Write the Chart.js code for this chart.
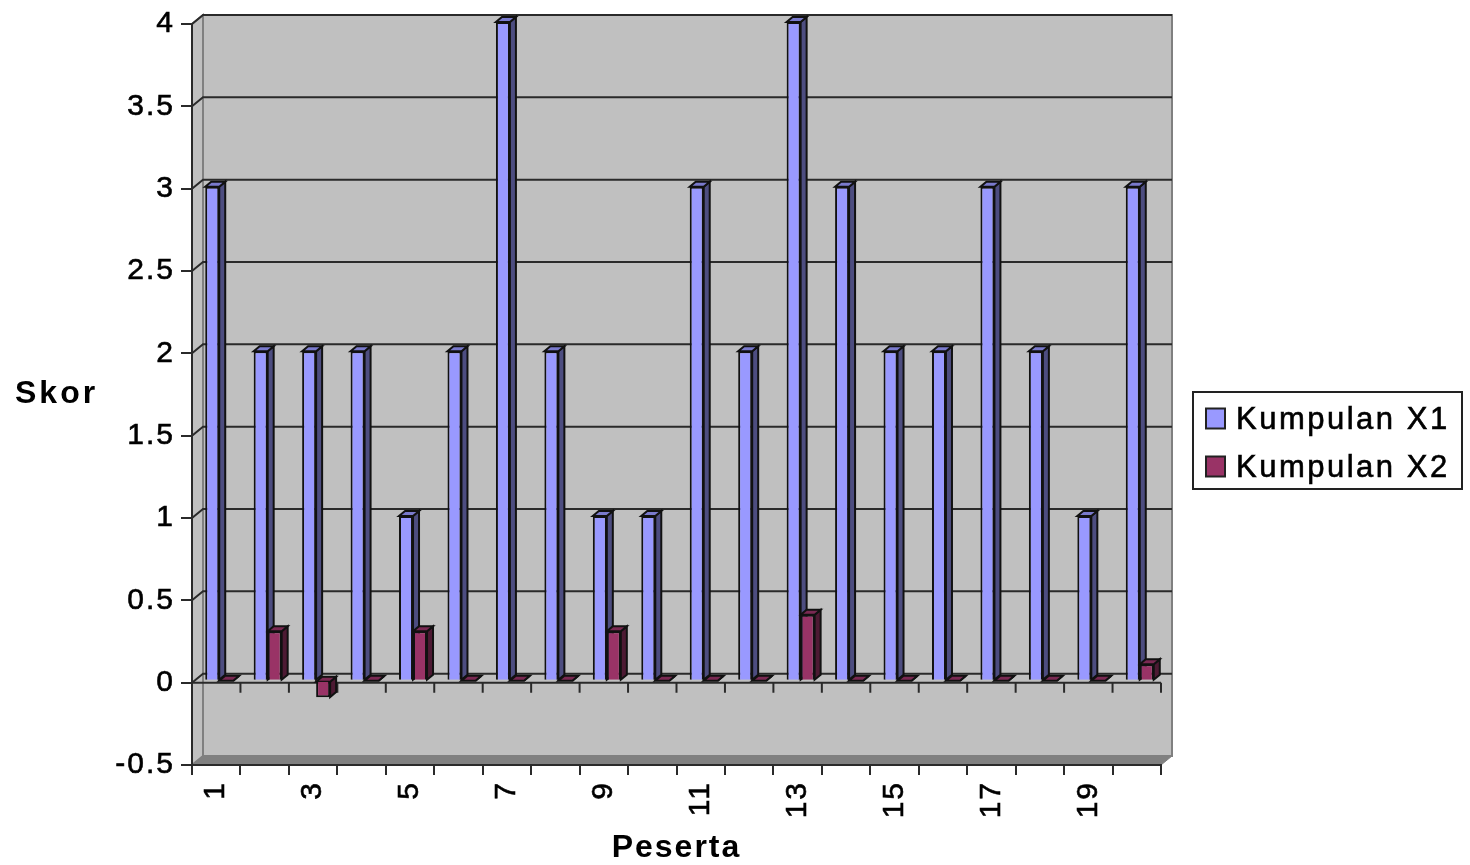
<!DOCTYPE html>
<html>
<head>
<meta charset="utf-8">
<title>Skor Peserta</title>
<script src="https://cdn.jsdelivr.net/npm/chart.js@4/dist/chart.umd.min.js"></script>
<style>
  html, body { margin: 0; padding: 0; background: #fff; }
  canvas { display: block; }
</style>
</head>
<body>
<canvas id="myChart" width="1470" height="865"></canvas>
<script>
const categories = ['1','2','3','4','5','6','7','8','9','10','11','12','13','14','15','16','17','18','19','20'];
const kumpulanX1 = [3,2,2,2,1,2,4,2,1,1,3,2,4,3,2,2,3,2,1,3];
const kumpulanX2 = [0,0.3,-0.1,0,0.3,0,0,0,0.3,0,0,0,0.4,0,0,0,0,0,0,0.1];

const FONT = '"Liberation Sans", Arial, sans-serif';
const WALL_DX = 11, WALL_DY = 9;     // how far the back wall sits behind the axes
const BAR_DX = 3, BAR_DY = 2;        // bars stand a little behind the front plane
const DEPTH_X = 6, DEPTH_Y = 5;      // depth of a bar

const faces = [
  { top: '#7a7acc', side: '#4d4d80' },
  { top: '#7a2952', side: '#4d1a33' }
];

function poly(ctx, pts, fill, stroke, lw) {
  ctx.beginPath();
  pts.forEach(function (p, i) { i ? ctx.lineTo(p[0], p[1]) : ctx.moveTo(p[0], p[1]); });
  ctx.closePath();
  if (fill) { ctx.fillStyle = fill; ctx.fill(); }
  if (stroke) { ctx.strokeStyle = stroke; ctx.lineWidth = lw; ctx.stroke(); }
}

// back wall, side wall, floor and the gridlines on them
const walls = {
  id: 'walls',
  beforeDraw(chart) {
    const ctx = chart.ctx, a = chart.chartArea, y = chart.scales.y;
    // the axis labels in the picture are widely spaced
    ctx.letterSpacing = '2px';
    ctx.save();
    poly(ctx, [[a.left + WALL_DX, a.top - WALL_DY], [a.right + WALL_DX, a.top - WALL_DY], [a.right + WALL_DX, a.bottom - WALL_DY], [a.left + WALL_DX, a.bottom - WALL_DY]], '#c0c0c0', '#808080', 2);
    poly(ctx, [[a.left, a.top], [a.left + WALL_DX, a.top - WALL_DY], [a.left + WALL_DX, a.bottom - WALL_DY], [a.left, a.bottom]], '#c0c0c0', '#808080', 2);
    poly(ctx, [[a.left, a.bottom], [a.left + WALL_DX, a.bottom - WALL_DY], [a.right + WALL_DX, a.bottom - WALL_DY], [a.right, a.bottom]], '#808080', '#808080', 1);
    ctx.strokeStyle = '#2a2a2a';
    ctx.lineWidth = 2;
    y.ticks.forEach(function (t) {
      const py = y.getPixelForValue(t.value);
      if (t.value === y.min) return;
      ctx.beginPath();
      ctx.moveTo(a.left, py);
      ctx.lineTo(a.left + WALL_DX, py - WALL_DY);
      ctx.lineTo(a.right + WALL_DX, py - WALL_DY);
      ctx.stroke();
    });
    ctx.restore();
  },
  // zero line with its own ticks, then every bar's top and side face
  beforeDatasetsDraw(chart) {
    const ctx = chart.ctx, a = chart.chartArea, x = chart.scales.x, y0 = chart.scales.y.getPixelForValue(0);
    const step = (a.right - a.left) / categories.length;
    ctx.save();
    ctx.strokeStyle = '#2a2a2a';
    ctx.lineWidth = 2;
    ctx.beginPath();
    ctx.moveTo(a.left, y0);
    ctx.lineTo(a.right, y0);
    for (let i = 0; i <= categories.length; i++) {
      const px = x.getPixelForValue(i) - step / 2;
      ctx.moveTo(px, y0);
      ctx.lineTo(px, y0 + 10);
    }
    ctx.stroke();

    ctx.translate(BAR_DX, -BAR_DY);
    chart.data.datasets.forEach(function (ds, i) {
      const f = faces[i];
      chart.getDatasetMeta(i).data.forEach(function (bar) {
        const p = bar.getProps(['x', 'y', 'base', 'width'], true);
        const l = p.x - p.width / 2, r = p.x + p.width / 2;
        const top = Math.min(p.y, p.base), bottom = Math.max(p.y, p.base);
        poly(ctx, [[r, top], [r + DEPTH_X, top - DEPTH_Y], [r + DEPTH_X, bottom - DEPTH_Y], [r, bottom]], f.side, '#111', 2);
        poly(ctx, [[l, top], [r, top], [r + DEPTH_X, top - DEPTH_Y], [l + DEPTH_X, top - DEPTH_Y]], f.top, '#111', 2);
      });
    });
    ctx.restore();
  },
  beforeDatasetDraw(chart) {
    chart.ctx.save();
    chart.ctx.translate(BAR_DX, -BAR_DY);
  },
  afterDatasetDraw(chart) {
    chart.ctx.restore();
  }
};

// horizontal "Skor" title and the boxed legend
const extras = {
  id: 'extras',
  afterDraw(chart) {
    const ctx = chart.ctx;
    ctx.save();
    ctx.fillStyle = '#000';
    ctx.textBaseline = 'middle';
    ctx.letterSpacing = '3px';
    ctx.font = 'bold 32px ' + FONT;
    ctx.fillText('Skor', 15, 394);

    ctx.strokeStyle = '#222';
    ctx.lineWidth = 2;
    ctx.fillStyle = '#fff';
    ctx.fillRect(1193, 392, 269, 97);
    ctx.strokeRect(1193, 392, 269, 97);
    ctx.font = '31px ' + FONT;
    ctx.letterSpacing = '2.5px';
    chart.data.datasets.forEach(function (ds, i) {
      const cy = 418.5 + i * 48;
      ctx.fillStyle = ds.backgroundColor;
      ctx.strokeStyle = '#222';
      ctx.lineWidth = 2;
      ctx.fillRect(1206, cy - 10, 19, 20);
      ctx.strokeRect(1206, cy - 10, 19, 20);
      ctx.fillStyle = '#000';
      ctx.strokeStyle = '#000';
      ctx.lineWidth = 0.6;
      ctx.fillText(ds.label, 1236, cy + 2);
      ctx.strokeText(ds.label, 1236, cy + 2);
    });
    ctx.restore();
  }
};

const myChart = new Chart(document.getElementById('myChart'), {
  type: 'bar',
  data: {
    labels: categories,
    datasets: [
      { label: 'Kumpulan X1', data: kumpulanX1, backgroundColor: '#9999ff', borderColor: '#111', borderWidth: 2, clip: false },
      { label: 'Kumpulan X2', data: kumpulanX2, backgroundColor: '#993366', borderColor: '#111', borderWidth: 2, clip: false }
    ]
  },
  options: {
    responsive: false,
    animation: false,
    devicePixelRatio: 1,
    categoryPercentage: 0.578,
    barPercentage: 1,
    layout: { padding: { left: 82, right: 309, top: 24, bottom: 0 } },
    plugins: { legend: { display: false }, tooltip: { enabled: false } },
    scales: {
      x: {
        afterFit(scale) { scale.height = 100; },
        grid: { drawOnChartArea: false, color: '#2a2a2a', lineWidth: 2, tickLength: 10 },
        border: { color: '#2a2a2a', width: 2 },
        title: { display: true, text: 'Peserta', color: '#000', font: { family: FONT, size: 32, weight: 'bold', lineHeight: 1.05 }, padding: 0 },
        ticks: {
          autoSkip: false,
          minRotation: 90,
          maxRotation: 90,
          padding: 6,
          color: '#000',
          textStrokeColor: '#000',
          textStrokeWidth: 0.6,
          font: { family: FONT, size: 30 },
          callback(value, i) { return i % 2 === 0 ? categories[i] : ''; }
        }
      },
      y: {
        min: -0.5,
        max: 4,
        afterFit(scale) { scale.width = 110; },
        grid: { drawOnChartArea: false, color: '#2a2a2a', lineWidth: 2, tickLength: 11 },
        border: { color: '#2a2a2a', width: 2 },
        ticks: {
          stepSize: 0.5,
          padding: 6,
          color: '#000',
          textStrokeColor: '#000',
          textStrokeWidth: 0.6,
          font: { family: FONT, size: 30 },
          callback(value) { return String(value); }
        }
      }
    }
  },
  plugins: [walls, extras]
});
</script>
</body>
</html>
